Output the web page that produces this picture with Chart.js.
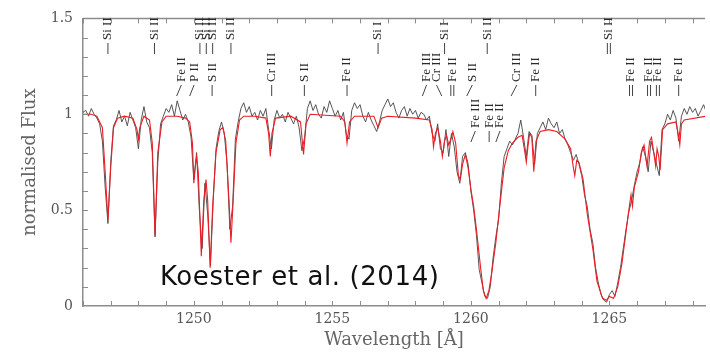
<!DOCTYPE html>
<html>
<head>
<meta charset="utf-8">
<script src="https://cdn.jsdelivr.net/npm/chart.js@4.4.1/dist/chart.umd.min.js"></script>
<style>
  html, body { margin: 0; padding: 0; background: #fff; }
</style>
</head>
<body>
<canvas id="spec" width="710" height="354"></canvas>
<script>
// === observed spectrum (black), 0.1 A steps from 1246.0 ===
const obsStart = 1246.0;
const obsStep = 0.1;
const obsFlux = [
  1.01,1.02,0.99,1.03,1.00,0.98,0.95,0.86,0.62,0.43,
  0.75,0.94,0.97,1.02,0.96,0.99,0.94,1.01,0.97,0.93,
  0.82,0.97,1.04,0.96,0.93,0.80,0.36,0.75,0.95,0.99,
  1.03,1.01,1.05,0.99,1.07,1.02,0.97,1.00,0.96,0.88,
  0.66,0.80,0.50,0.30,0.64,0.48,0.21,0.55,0.82,0.91,
  0.96,0.90,0.74,0.40,0.52,0.87,0.96,1.03,1.06,1.01,
  1.04,0.99,1.01,0.97,1.02,0.99,1.03,0.92,0.82,0.97,
  1.02,0.98,1.00,0.96,1.01,0.98,0.95,0.99,0.93,0.81,
  0.88,1.03,1.07,1.02,1.05,1.00,0.98,1.04,1.01,1.07,
  1.03,0.99,1.02,0.97,1.01,0.90,0.87,1.02,1.06,1.03,
  1.05,0.99,0.96,1.01,0.97,0.94,0.91,0.96,1.02,1.05,
  1.08,1.04,1.06,1.01,0.98,1.02,1.04,0.99,1.03,1.00,
  1.02,0.98,1.01,1.00,0.97,0.99,0.90,0.86,0.95,0.82,
  0.80,0.92,0.78,0.90,0.83,0.70,0.64,0.78,0.80,0.74,
  0.60,0.50,0.37,0.19,0.12,0.05,0.04,0.10,0.25,0.36,
  0.45,0.64,0.78,0.82,0.86,0.84,0.87,0.90,0.97,0.88,
  0.78,0.91,0.89,0.74,0.90,0.93,0.96,0.92,0.98,0.95,
  0.93,0.96,0.90,0.92,0.87,0.84,0.80,0.76,0.79,0.74,
  0.68,0.58,0.52,0.40,0.33,0.20,0.12,0.06,0.03,0.02,
  0.06,0.08,0.05,0.12,0.20,0.30,0.40,0.49,0.55,0.63,
  0.70,0.75,0.83,0.78,0.70,0.86,0.80,0.74,0.68,0.92,
  0.95,1.00,0.97,1.02,0.98,0.86,0.99,1.03,1.00,1.04,
  1.01,1.03,0.99,1.02,1.05,1.01
];

// === model spectrum (red) ===
const modelWave = [
  1246.0,1246.3,1246.5,1246.7,1246.8,1246.9,1247.0,1247.1,1247.25,1247.5,
  1247.8,1247.95,1248.0,1248.05,1248.2,1248.4,1248.5,1248.6,1248.7,1248.85,
  1249.0,1249.4,1249.7,1249.85,1249.95,1250.0,1250.05,1250.1,1250.16,1250.27,
  1250.36,1250.44,1250.5,1250.59,1250.68,1250.8,1250.95,1251.05,1251.15,1251.27,
  1251.34,1251.42,1251.52,1251.65,1251.8,1252.2,1252.6,1252.7,1252.76,1252.82,
  1252.95,1253.5,1253.85,1253.96,1254.05,1254.2,1255.3,1255.45,1255.53,1255.62,
  1255.8,1256.5,1256.65,1256.78,1257.0,1258.0,1258.5,1258.6,1258.65,1258.72,
  1258.8,1258.9,1258.97,1259.05,1259.12,1259.2,1259.3,1259.35,1259.45,1259.55,
  1259.62,1259.7,1259.8,1259.9,1260.0,1260.1,1260.2,1260.35,1260.45,1260.55,
  1260.65,1260.75,1260.9,1261.05,1261.2,1261.35,1261.5,1261.7,1261.85,1261.95,
  1262.0,1262.05,1262.12,1262.2,1262.27,1262.35,1262.5,1262.8,1263.1,1263.4,
  1263.6,1263.7,1263.75,1263.82,1263.9,1264.05,1264.2,1264.4,1264.55,1264.75,
  1264.9,1265.0,1265.15,1265.3,1265.45,1265.7,1265.78,1265.83,1265.9,1266.05,
  1266.15,1266.25,1266.36,1266.45,1266.52,1266.6,1266.67,1266.72,1266.78,1266.83,
  1266.92,1267.1,1267.4,1267.48,1267.54,1267.6,1267.7,1268.5
];
const modelFlux = [
  1.00,1.00,0.99,0.93,0.70,0.45,0.72,0.93,0.98,0.99,
  0.98,0.92,0.87,0.93,0.99,0.97,0.85,0.37,0.80,0.96,
  0.99,0.99,0.98,0.96,0.85,0.64,0.72,0.78,0.70,0.26,
  0.55,0.66,0.55,0.20,0.52,0.80,0.92,0.93,0.86,0.55,
  0.33,0.55,0.85,0.97,0.99,0.99,0.98,0.90,0.78,0.90,
  0.98,0.99,0.96,0.79,0.95,1.00,0.99,0.96,0.85,0.96,
  0.99,0.99,0.93,0.98,0.99,0.98,0.97,0.92,0.83,0.90,
  0.93,0.86,0.78,0.86,0.89,0.84,0.88,0.91,0.85,0.68,
  0.66,0.74,0.79,0.72,0.61,0.52,0.40,0.20,0.08,0.04,
  0.08,0.17,0.33,0.53,0.72,0.81,0.85,0.88,0.89,0.80,
  0.75,0.82,0.90,0.88,0.70,0.86,0.91,0.92,0.91,0.87,
  0.82,0.72,0.68,0.76,0.75,0.66,0.48,0.30,0.13,0.04,
  0.03,0.05,0.04,0.10,0.22,0.50,0.58,0.52,0.62,0.70,
  0.80,0.84,0.73,0.86,0.88,0.80,0.73,0.82,0.78,0.71,
  0.92,0.95,0.96,0.90,0.84,0.95,0.97,0.99
];

// === line identifications ===
const lineText = ['Si II','Si II','Si II','Si II','Si II','Si II','Si I','Si I','Si II','Si II',
  'Fe II','P II','S II','Cr III','S II','Fe II','Fe III','Cr III','Fe II','S II',
  'Cr III','Fe II','Fe II','Fe II','Fe II','Fe II',
  'Fe III','Fe II','Fe II'];
const lineAt = [1246.90,1248.58,1250.22,1250.45,1250.68,1251.34,1256.65,1259.05,1260.59,1264.98,
  1249.55,1250.01,1250.66,1252.81,1253.99,1255.53,1258.40,1258.76,1259.33,1260.05,
  1261.66,1262.34,1265.78,1266.43,1266.75,1267.50,
  1260.16,1260.66,1261.05];
const lineMark = [1246.90,1248.58,1250.22,1250.45,1250.68,1251.34,1256.65,1259.05,1260.59,1264.98,
  1249.38,1249.85,1250.66,1252.81,1253.99,1255.53,1258.25,1258.95,1259.33,1259.85,
  1261.45,1262.34,1265.78,1266.43,1266.75,1267.50,
  1260.00,1260.66,1260.90];
const lineRow = [0,0,0,0,0,0,0,0,0,0, 1,1,1,1,1,1,1,1,1,1, 1,1,1,1,1,1, 2,2,2];
const lineTicks = [1,1,1,1,1,1,1,1,1,2, 1,1,1,1,1,1,1,1,2,1, 1,1,2,2,2,1, 1,1,1];

const xMajor = [1250, 1255, 1260, 1265];
const yMajor = [0, 0.5, 1, 1.5];

const obsPoints = obsFlux.map((f, i) => ({ x: +(obsStart + i * obsStep).toFixed(2), y: f }));
const modelPoints = modelWave.map((w, i) => ({ x: w, y: modelFlux[i] }));

const frameColor = '#8c8c8c';

// inward ticks, top frame line, line IDs and the citation
const decorPlugin = {
  id: 'decor',
  afterDraw(chart) {
    const ctx = chart.ctx;
    const xs = chart.scales.x, ys = chart.scales.y;
    const a = chart.chartArea;
    ctx.save();
    ctx.strokeStyle = frameColor;
    ctx.lineWidth = 1.5;
    ctx.beginPath();
    ctx.moveTo(a.left, a.top);
    ctx.lineTo(a.right, a.top);
    ctx.stroke();
    ctx.lineWidth = 1;
    ctx.beginPath();
    for (let w = 1246; w <= 1268; w++) {
      const px = Math.round(xs.getPixelForValue(w)) + 0.5;
      ctx.moveTo(px, a.bottom); ctx.lineTo(px, a.bottom - 5);
      ctx.moveTo(px, a.top); ctx.lineTo(px, a.top + 5);
    }
    for (let k = 1; k < 15; k++) {
      const py = Math.round(ys.getPixelForValue(k / 10)) + 0.5;
      ctx.moveTo(a.left, py); ctx.lineTo(a.left + 5, py);
    }
    ctx.stroke();

    // line identifications
    const rowY = [40, 82, 128];
    ctx.fillStyle = '#2a2a2a';
    ctx.strokeStyle = '#444';
    ctx.font = '13px "Liberation Serif"';
    lineText.forEach((t, i) => {
      const tx = xs.getPixelForValue(lineAt[i]);
      const mx = xs.getPixelForValue(lineMark[i]);
      const yb = rowY[lineRow[i]];
      ctx.save();
      ctx.translate(tx, yb);
      ctx.rotate(-Math.PI / 2);
      ctx.textAlign = 'left';
      ctx.textBaseline = 'middle';
      ctx.fillText(t, 0, 0);
      ctx.restore();
      const offs = lineTicks[i] === 2 ? [-1.5, 1.5] : [0];
      ctx.beginPath();
      offs.forEach(o => {
        ctx.moveTo(tx + o, yb + 3);
        ctx.lineTo(mx + o, yb + 14);
      });
      ctx.stroke();
    });

    ctx.fillStyle = '#111';
    ctx.font = '26px "DejaVu Sans"';
    ctx.letterSpacing = '0.6px';
    ctx.textAlign = 'left';
    ctx.textBaseline = 'alphabetic';
    ctx.fillText('Koester et al. (2014)', 160, 285);
    ctx.restore();
  }
};

new Chart(document.getElementById('spec'), {
  type: 'line',
  data: {
    datasets: [
      { label: 'model', data: modelPoints, borderColor: '#ec1c24', borderWidth: 1.1, pointRadius: 0, fill: false },
      { label: 'observed', data: obsPoints, borderColor: '#444', borderWidth: 0.9, pointRadius: 0, fill: false }
    ]
  },
  options: {
    responsive: false,
    animation: false,
    devicePixelRatio: 1,
    layout: { padding: { top: 14, right: 1, left: 0, bottom: 0 } },
    plugins: { legend: { display: false }, tooltip: { enabled: false } },
    scales: {
      x: {
        type: 'linear',
        min: 1246,
        max: 1268.45,
        grid: { display: false, drawTicks: false },
        border: { display: true, color: frameColor, width: 1.5 },
        ticks: {
          stepSize: 1,
          autoSkip: false,
          maxRotation: 0,
          padding: 5,
          color: '#555',
          font: { family: 'DejaVu Serif', size: 14 },
          callback: v => xMajor.includes(v) ? String(v) : ''
        },
        title: {
          display: true,
          text: 'Wavelength [Å]',
          color: '#666',
          font: { family: 'DejaVu Serif', size: 18 },
          padding: { top: 0, bottom: 3 }
        },
        afterFit: s => { s.height = 48; }
      },
      y: {
        min: 0,
        max: 1.5,
        grid: { display: false, drawTicks: false },
        border: { display: true, color: frameColor, width: 1.5 },
        ticks: {
          stepSize: 0.1,
          autoSkip: false,
          padding: 10,
          color: '#555',
          font: { family: 'DejaVu Serif', size: 14 },
          callback: v => {
            const m = yMajor.find(t => Math.abs(t - v) < 1e-6);
            return m === undefined ? '' : String(m);
          }
        },
        title: {
          display: true,
          text: 'normalised Flux',
          color: '#666',
          font: { family: 'DejaVu Serif', size: 18 },
          padding: { top: 20, bottom: 0 }
        },
        afterFit: s => { s.width = 83; }
      }
    }
  },
  plugins: [decorPlugin]
});
</script>
</body>
</html>
